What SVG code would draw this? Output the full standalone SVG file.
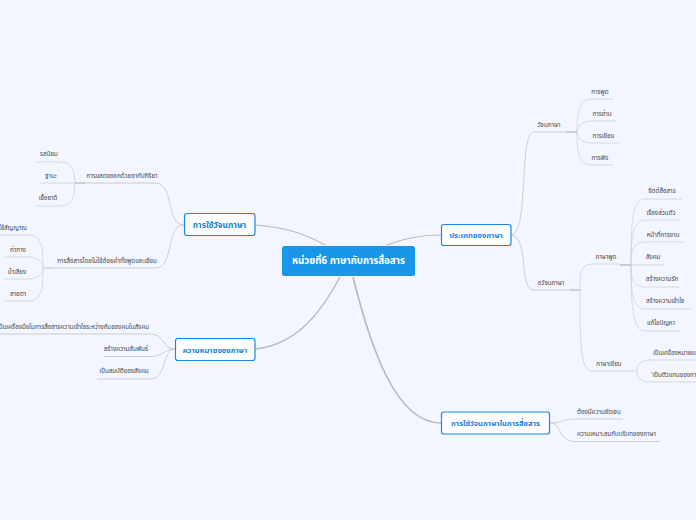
<svg xmlns="http://www.w3.org/2000/svg" width="696" height="520" viewBox="0 0 696 520">
<style>
text{font-family:"Noto Sans","Noto Sans Thai","DejaVu Sans","Liberation Sans",sans-serif}
.l{font-size:6.200px;fill:#444;text-anchor:middle}
.s{text-anchor:start}.e{text-anchor:end}
.m{font-size:7.600px;font-weight:700;fill:#1580e0;text-anchor:middle}
.b{fill:#fff;stroke:#1a86ee;stroke-width:1.2}
.c{fill:none;stroke:#d4d5da;stroke-width:.9}
.d{fill:none;stroke:#b9b9bb;stroke-width:1.2}
.t{fill:none;stroke:#c8c8cb;stroke-width:.9}
</style>
<rect width="696" height="520" fill="#f3f6ff"/>
<g id="connectors">
<path class="d" d="M255 225C285 227 308 235 325 245"/>
<path class="d" style="stroke-width:1.4" d="M255 349C295 345 320 315 340 277"/>
<path class="d" d="M441 235C418 235 402 239 387 245"/>
<path class="d" style="stroke-width:1.6" d="M441 423C395 423 370 345 353 277"/>
<path class="t" d="M184 225C165 225 175 183 155 183H75"/>
<path class="t" d="M184 225C165 225 175 268 155 268H53"/>
<path class="c" d="M75 183C74 172 74 162 60 162H37"/>
<path class="c" d="M75 183H40"/>
<path class="c" d="M75 183C74 194 74 206 60 206H35"/>
<path class="t" style="stroke:#b8b8ba" d="M85 183H75M53 268H43"/>
<path class="c" d="M43 268C43 250 43 235 28 235H0"/>
<path class="c" d="M43 268C43 262 38 257 28 257H5"/>
<path class="c" d="M43 268C43 274 38 279 28 279H4"/>
<path class="c" d="M43 268C43 285 43 301 28 301H5"/>
<path class="t" d="M175 349C162 349 165 334 150 334H0"/>
<path class="t" d="M175 349C165 349 163 356.500 150 356.500H104"/>
<path class="t" d="M175 349C162 349 167 379 150 379H97"/>
<path class="t" d="M511 235C530 232 518 132 534 132H577"/>
<path class="t" d="M511 235C530 237 518 290 534 290H580"/>
<path class="c" d="M577 132C577 115 578 99 592 99H614"/>
<path class="c" d="M577 132C577 126 582 121 592 121H617"/>
<path class="c" d="M577 132C577 138 582 143 592 143H620"/>
<path class="c" d="M577 132C577 150 578 165 592 165H614"/>
<path class="t" style="stroke:#b8b8ba" d="M566 132H577M570 290H580"/>
<path class="c" d="M580 290C580 275 580 264 592 264H620"/>
<path class="c" d="M580 290C580 340 580 371 592 371H637"/>
<path class="t" style="stroke:#b0b0b2;stroke-width:1.2" d="M620 265H632"/>
<path class="c" d="M631 265C631 230 631 199 645 199H682"/>
<path class="c" d="M631 265C631 240 632 220 645 220H679"/>
<path class="c" d="M631 265C631 253 632 242 645 242H685"/>
<path class="c" d="M631 265H665"/>
<path class="c" d="M631 265C631 276 632 287 645 287H679"/>
<path class="c" d="M631 265C631 290 632 309 645 309H691"/>
<path class="c" d="M631 265C631 300 632 331 645 331H680"/>
<path class="c" d="M637 371C637 365 640 360 650 360H696"/>
<path class="c" d="M637 371C637 377 640 382 650 382H696"/>
<path class="t" d="M550 423C562 423 562 419 575 419H623"/>
<path class="t" d="M550 423C562 423 558 441.500 575 441.500H660"/>
</g>
<g id="center"><rect x="282" y="246" width="133" height="30" rx="2.500" fill="#1a96e8"/><text x="348.500" y="264" style="font-size:9.700px;font-weight:700;fill:#fff;text-anchor:middle">หน่วยที่6 ภาษากับการสื่อสาร</text></g>
<g id="n-use"><rect class="b" x="184.500" y="213.500" width="70.500" height="22" rx="2.500"/><text class="m" x="219.500" y="227.500" style="font-size:8.400px">การใช้วัจนภาษา</text></g>
<g id="n-mean"><rect class="b" x="175.500" y="338.500" width="79.500" height="22" rx="2.500"/><text class="m" x="215" y="352.500">ความหมายของภาษา</text></g>
<g id="n-type"><rect class="b" x="441.500" y="224.500" width="69.500" height="21" rx="2.500"/><text class="m" x="476" y="238">ประเภทของภาษา</text></g>
<g id="n-comm"><rect class="b" x="441.500" y="412" width="108" height="22" rx="2.500"/><text class="m" x="495.500" y="426">การใช้วัจนภาษาในการสื่อสาร</text></g>
<g id="l-1"><text class="l" x="122" y="178">การแสดงออกด้วยอากัปกิริยา</text></g>
<g id="l-2"><text class="l" x="49" y="156">รสนิยม</text></g>
<g id="l-3"><text class="l" x="51" y="178">ฐานะ</text></g>
<g id="l-4"><text class="l" x="48" y="200">เชื้อชาติ</text></g>
<g id="l-5"><text class="l" x="107" y="263">การสื่อสารโดยไม่ใช้ถ้อยคำทั้งพูดและเขียน</text></g>
<g id="l-6"><text class="l e" x="27" y="230">ใช้สัญญาณ</text></g>
<g id="l-7"><text class="l" x="18" y="252">ท่าทาง</text></g>
<g id="l-8"><text class="l" x="17" y="274">น้ำเสียง</text></g>
<g id="l-9"><text class="l" x="18" y="296">สายตา</text></g>
<g id="l-10"><text class="l e" x="149" y="329">เป็นเครื่องมือในการสื่อสารความเข้าใจระหว่างกันของคนในสังคม</text></g>
<g id="l-11"><text class="l" x="126" y="351">สร้างความสัมพันธ์</text></g>
<g id="l-12"><text class="l" x="124" y="373">เป็นสมบัติของสังคม</text></g>
<g id="l-13"><text class="l" x="549" y="127">วัจนภาษา</text></g>
<g id="l-14"><text class="l" x="600" y="94">การพูด</text></g>
<g id="l-15"><text class="l" x="602" y="116">การอ่าน</text></g>
<g id="l-16"><text class="l" x="603.500" y="138">การเขียน</text></g>
<g id="l-17"><text class="l" x="600" y="160">การฟัง</text></g>
<g id="l-18"><text class="l" x="551" y="285">อวัจนภาษา</text></g>
<g id="l-19"><text class="l" x="606" y="259">ภาษาพูด</text></g>
<g id="l-20"><text class="l" x="662" y="193">จิตต์สื่อสาร</text></g>
<g id="l-21"><text class="l" x="661" y="215">เรื่องส่วนตัว</text></g>
<g id="l-22"><text class="l" x="663" y="237">หน้าที่การงาน</text></g>
<g id="l-23"><text class="l" x="653" y="259">สังคม</text></g>
<g id="l-24"><text class="l" x="662" y="281">สร้างความรัก</text></g>
<g id="l-25"><text class="l" x="665" y="303">สร้างความเข้าใจ</text></g>
<g id="l-26"><text class="l" x="661" y="325">แก้ไขปัญหา</text></g>
<g id="l-27"><text class="l" x="609" y="366">ภาษาเขียน</text></g>
<g id="l-28"><text class="l s" x="653" y="355">เป็นเครื่องหมายแทนคำพูด</text></g>
<g id="l-29"><text class="l s" x="651" y="377">'เป็นตัวแทนของการสื่อสาร</text></g>
<g id="l-30"><text class="l s" x="577" y="414">ต้องมีความชัดเจน</text></g>
<g id="l-31"><text class="l s" x="577" y="436">ความเหมาะสมกับบริบทของภาษา</text></g>
</svg>
